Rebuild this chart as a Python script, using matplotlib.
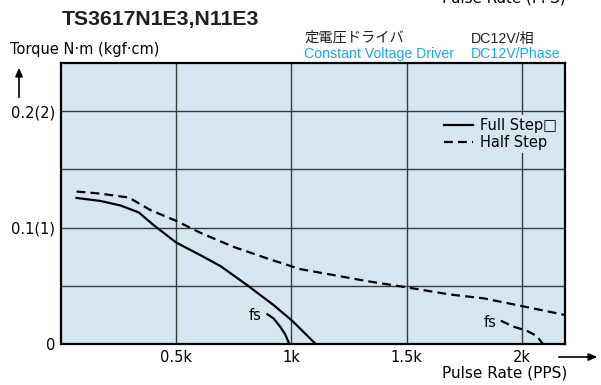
import matplotlib
matplotlib.use("Agg")
import matplotlib.pyplot as plt

# ---- data ----
full_f = [69, 173, 260, 339, 404, 502, 606, 693, 808, 923, 1003, 1105]
full_T = [0.1255, 0.1229, 0.119, 0.113, 0.102, 0.087, 0.0763, 0.0669, 0.0506, 0.0334, 0.020, 0.0]
full_fs_f = [896, 922, 951, 972, 991]
full_fs_T = [0.0255, 0.0221, 0.0149, 0.0086, 0.0]
half_f = [69, 173, 296, 390, 502, 606, 750, 895, 1039, 1183, 1328, 1499, 1688, 1831, 2000, 2186]
half_T = [0.131, 0.1292, 0.1258, 0.115, 0.1057, 0.0955, 0.0834, 0.0735, 0.0643, 0.0592, 0.054,
          0.0487, 0.0425, 0.0393, 0.0325, 0.0249]
half_fs_f = [1907, 1962, 2019, 2063, 2089]
half_fs_T = [0.020, 0.0149, 0.0114, 0.0069, 0.0]
x_ticks = [500, 1000, 1500, 2000]
x_labels = ["0.5k", "1k", "1.5k", "2k"]
y_ticks = [0, 0.05, 0.1, 0.15, 0.2]
y_labels = ["0", "", "0.1(1)", "", "0.2(2)"]
legend_labels = ["Full Step\u25a1", "Half Step"]

BG = "#d5e6f0"
BLUE = "#1ea7e4"
DARK = "#231f20"
FS = 10.5
SANS = ["DejaVu Sans", "Noto Sans CJK JP"]
ARIAL = ["Liberation Sans", "Noto Sans CJK JP", "DejaVu Sans"]
plt.rcParams["font.family"] = SANS

W, H = 601, 385
fig = plt.figure(figsize=(W / 100, H / 100), dpi=100)
L, R, T, B = 60.6, 565, 63.3, 344
ax = fig.add_axes([L / W, 1 - B / H, (R - L) / W, (B - T) / H])
ax.set_facecolor(BG)
ax.set_xlim(0, 2185)
ax.set_ylim(0, 0.2412)

ax.set_xticks(x_ticks)
ax.set_xticklabels(x_labels, fontsize=FS)
ax.set_yticks(y_ticks)
ax.set_yticklabels(y_labels, fontsize=FS)
ax.tick_params(length=0, pad=4)
ax.tick_params(axis="x", pad=4)
ax.grid(True, color="#3a3a3a", lw=1.0)
ax.set_axisbelow(True)
for s in ax.spines.values():
    s.set_linewidth(1.6)
    s.set_color("black")

lw = 1.6
dash = (0, (4, 2.3))
ax.plot(full_f, full_T, color="black", lw=lw, label=legend_labels[0])
ax.plot(half_f, half_T, color="black", lw=lw, ls=dash, label=legend_labels[1])
ax.plot(full_fs_f, full_fs_T, color="black", lw=lw)
ax.plot(half_fs_f, half_fs_T, color="black", lw=lw, ls=dash)

ax.text(842, 0.0249, "fs", fontsize=FS, ha="center", va="center")
ax.text(1860, 0.0189, "fs", fontsize=FS, ha="center", va="center")

leg = ax.legend(loc="upper right", bbox_to_anchor=(0.99, 0.815), fontsize=FS,
                frameon=True, facecolor=BG, edgecolor="none", framealpha=1,
                fancybox=False, handlelength=2.05, handletextpad=0.45,
                labelspacing=0.15, borderpad=0.2, borderaxespad=0)

def fx(px):
    return px / W

def fy(py):
    return 1 - py / H

fig.text(fx(62), fy(25), "TS3617N1E3,N11E3", fontsize=15.3, fontweight="bold",
         family=["Liberation Sans", "DejaVu Sans"], color=DARK, va="baseline", ha="left")
fig.text(fx(10), fy(54), "Torque N\u00b7m (kgf\u00b7cm)", fontsize=FS, va="baseline", ha="left")
fig.text(fx(304), fy(42), "定電圧ドライバ", fontsize=10.3, family=["Noto Sans CJK JP"],
         color=DARK, va="baseline", ha="left")
fig.text(fx(304), fy(58), "Constant Voltage Driver", fontsize=10.2, family=ARIAL, color=BLUE,
         va="baseline", ha="left")
fig.text(fx(471), fy(43), "DC12V/相", fontsize=10.2, family=ARIAL, color=DARK,
         va="baseline", ha="left")
fig.text(fx(471), fy(58), "DC12V/Phase", fontsize=10.2, family=ARIAL, color=BLUE,
         va="baseline", ha="left")
fig.text(fx(566), fy(2.5), "Pulse Rate (PPS)", fontsize=10.9,
         va="baseline", ha="right")
fig.text(fx(567), fy(377), "Pulse Rate (PPS)", fontsize=11.0,
         va="baseline", ha="right")

# axis arrows
fig.add_artist(matplotlib.patches.FancyArrowPatch(
    (fx(556), fy(357)), (fx(600), fy(357)), transform=fig.transFigure,
    arrowstyle="-|>,head_length=5,head_width=2.2", mutation_scale=1, lw=1.2, color="black"))
fig.add_artist(matplotlib.patches.FancyArrowPatch(
    (fx(19), fy(100)), (fx(19), fy(65)), transform=fig.transFigure,
    arrowstyle="-|>,head_length=5,head_width=2.2", mutation_scale=1, lw=1.2, color="black"))

fig.savefig("out.png", dpi=100)
